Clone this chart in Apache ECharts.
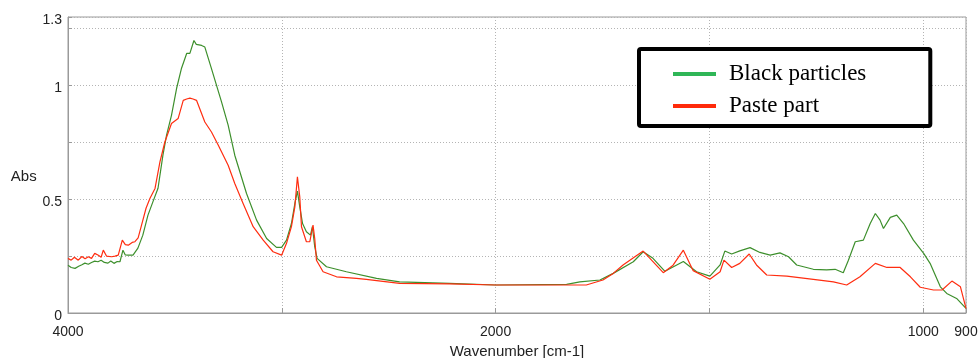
<!DOCTYPE html>
<html>
<head>
<meta charset="utf-8">
<script src="https://cdn.jsdelivr.net/npm/echarts@6/dist/echarts.min.js"></script>
<style>html,body{margin:0;padding:0;background:#fff}#chart{width:979px;height:358px}</style>
</head>
<body>
<div id="chart"></div>
<script>
// ---- data (wavenumber in cm-1, absorbance) ----
const seriesNames = ['Black particles', 'Paste part'];
const blackWn = [4000,3985,3967,3950,3935,3921,3905,3890,3875,3860,3845,3830,3813,3800,3785,3770,3757,3743,3732,3720,3696,3673,3650,3626,3603,3579,3556,3539,3516,3492,3469,3445,3430,3411,3400,3391,3375,3360,3329,3282,3251,3220,3165,3118,3071,3025,3001,2978,2955,2939,2927,2916,2903,2885,2866,2857,2846,2835,2791,2698,2557,2449,2215,2000,1834,1803,1756,1725,1678,1655,1632,1604,1561,1530,1499,1475,1464,1448,1429,1405,1382,1358,1335,1315,1296,1257,1226,1206,1187,1175,1159,1140,1124,1112,1101,1093,1077,1062,1046,1023,999,984,960,945,922,900];
const blackAbs = [0.21,0.20,0.196,0.205,0.212,0.219,0.214,0.222,0.228,0.225,0.232,0.222,0.219,0.228,0.218,0.226,0.225,0.276,0.255,0.254,0.254,0.285,0.342,0.43,0.488,0.548,0.693,0.781,0.868,0.987,1.075,1.14,1.14,1.197,1.18,1.175,1.175,1.168,1.073,0.927,0.825,0.693,0.525,0.408,0.327,0.288,0.288,0.32,0.393,0.481,0.535,0.466,0.393,0.357,0.342,0.379,0.291,0.24,0.203,0.181,0.152,0.137,0.13,0.123,0.126,0.137,0.145,0.174,0.225,0.269,0.24,0.183,0.226,0.181,0.162,0.211,0.272,0.259,0.273,0.287,0.266,0.254,0.264,0.247,0.211,0.192,0.189,0.192,0.177,0.232,0.313,0.32,0.393,0.437,0.408,0.371,0.42,0.43,0.393,0.32,0.262,0.218,0.115,0.086,0.064,0.02];
const pasteWn = [4000,3985,3970,3952,3935,3920,3905,3890,3875,3858,3845,3835,3820,3796,3780,3765,3746,3732,3718,3700,3687,3672,3656,3635,3617,3593,3570,3547,3516,3485,3461,3445,3430,3415,3399,3360,3329,3297,3251,3220,3181,3134,3087,3041,3001,2978,2955,2939,2927,2916,2908,2885,2869,2854,2846,2838,2807,2744,2651,2605,2449,2215,2000,1788,1749,1725,1702,1655,1608,1585,1561,1538,1499,1475,1466,1448,1429,1407,1390,1366,1319,1257,1210,1179,1148,1112,1085,1054,1030,1007,976,956,933,913,900];
const pasteAbs = [0.24,0.232,0.245,0.232,0.248,0.238,0.247,0.24,0.262,0.254,0.245,0.276,0.25,0.247,0.25,0.254,0.32,0.3,0.298,0.31,0.313,0.33,0.386,0.46,0.503,0.547,0.664,0.751,0.832,0.854,0.934,0.94,0.944,0.94,0.934,0.839,0.795,0.737,0.649,0.569,0.481,0.379,0.32,0.269,0.254,0.306,0.379,0.466,0.598,0.51,0.379,0.313,0.313,0.386,0.327,0.232,0.181,0.159,0.152,0.148,0.13,0.128,0.123,0.123,0.145,0.174,0.211,0.272,0.177,0.21,0.276,0.186,0.148,0.181,0.232,0.2,0.218,0.259,0.211,0.167,0.162,0.148,0.137,0.123,0.159,0.218,0.2,0.2,0.159,0.113,0.101,0.101,0.14,0.115,0.02];
const xTickLabels = {4000: '4000', 2000: '2000', 1000: '1000', 900: '900'};
const yTickLabels = [0, 0.5, 1, 1.3];

// Spectrometer display: scale below 2000 cm-1 is expanded 2x.
function toAxis(w) { return w >= 2000 ? 4000 - w : 2000 + (2000 - w) * 2; }
function fromAxis(u) { return u <= 2000 ? 4000 - u : 2000 - (u - 2000) / 2; }

const chart = echarts.init(document.getElementById('chart'), null, {renderer: 'canvas'});
const gridColor = '#b4b4b4';
const frameColor = '#9a9a9a';
const font = 'Liberation Sans, Arial, sans-serif';

chart.setOption({
  animation: false,
  backgroundColor: '#ffffff',
  grid: {left: 68, right: 13, top: 17, bottom: 45, show: true, borderColor: frameColor, borderWidth: 1,
         containLabel: false, outerBoundsMode: 'none'},
  xAxis: {
    type: 'value', min: 0, max: 4200, interval: 1000,
    name: 'Wavenumber [cm-1]', nameLocation: 'middle', nameGap: 27,
    nameTextStyle: {fontFamily: font, fontSize: 15, color: '#222'},
    axisLine: {show: true, lineStyle: {color: frameColor}},
    axisTick: {show: true, inside: true, length: 5, lineStyle: {color: frameColor}},
    axisLabel: {
      fontFamily: font, fontSize: 14, color: '#222', margin: 12, showMaxLabel: true, showMinLabel: true,
      formatter: function (u) { const w = Math.round(fromAxis(u)); return xTickLabels[w] || ''; }
    },
    splitLine: {show: true, lineStyle: {color: gridColor, type: [1, 2]}}
  },
  yAxis: {
    type: 'value', min: 0, max: 1.3, interval: 0.25,
    name: 'Abs', nameLocation: 'middle', nameGap: 31, nameRotate: 0,
    nameTextStyle: {fontFamily: font, fontSize: 15, color: '#222', verticalAlign: 'top', lineHeight: 24},
    axisLine: {show: true, lineStyle: {color: frameColor}},
    axisTick: {show: true, inside: true, length: 4, lineStyle: {color: frameColor}},
    axisLabel: {
      fontFamily: font, fontSize: 14, color: '#222', margin: 6, verticalAlign: 'top', lineHeight: 6, showMaxLabel: true,
      formatter: function (v) { const r = Math.round(v * 100) / 100; return yTickLabels.indexOf(r) >= 0 ? String(r) : ''; }
    },
    splitLine: {show: true, lineStyle: {color: gridColor, type: [1, 2]}}
  },
  legend: {
    left: 639, top: 49, orient: 'vertical',
    backgroundColor: '#ffffff', borderColor: '#000', borderWidth: 4, borderRadius: 2,
    padding: [13, 64, 8, 34],
    itemWidth: 43, itemHeight: 4, itemGap: 8, icon: 'rect',
    textStyle: {fontFamily: 'Liberation Serif, Times New Roman, serif', fontSize: 23, color: '#000', lineHeight: 24, padding: [0, 0, 0, 8]},
    data: [
      {name: seriesNames[0], itemStyle: {color: '#2fb657'}},
      {name: seriesNames[1], itemStyle: {color: '#ff2a0a'}}
    ]
  },
  series: [
    {name: seriesNames[0], type: 'line', showSymbol: false, symbol: 'none',
     lineStyle: {color: '#3d8f2c', width: 1.2}, itemStyle: {color: '#3d8f2c'},
     data: blackWn.map((w, i) => [toAxis(w), blackAbs[i]])},
    {name: seriesNames[1], type: 'line', showSymbol: false, symbol: 'none',
     lineStyle: {color: '#ff2d10', width: 1.2}, itemStyle: {color: '#ff2d10'},
     data: pasteWn.map((w, i) => [toAxis(w), pasteAbs[i]])}
  ]
});
</script>
</body>
</html>
